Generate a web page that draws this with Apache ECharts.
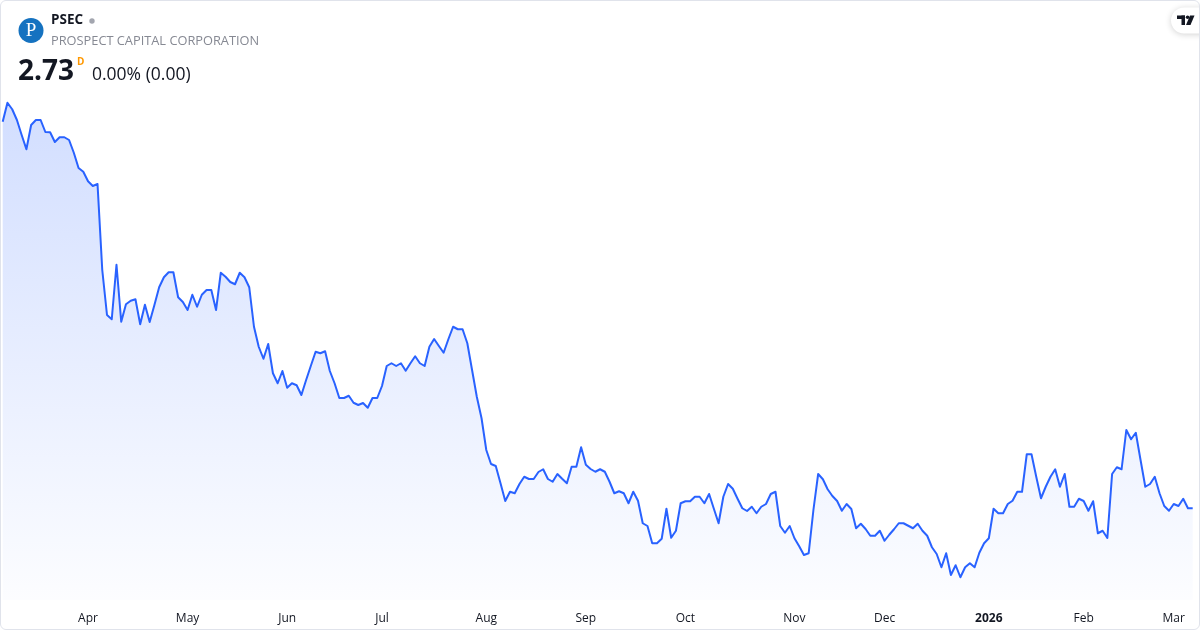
<!DOCTYPE html>
<html><head><meta charset="utf-8">
<script src="https://cdn.jsdelivr.net/npm/echarts@6/dist/echarts.min.js"></script>
<style>
html,body{margin:0;padding:0;background:#fff}
#c{width:1200px;height:630px;position:absolute;left:0;top:0}
#frame{position:absolute;left:0;top:0;width:1198px;height:628px;border:1px solid #e0e3eb;border-radius:6px;pointer-events:none}
</style></head><body><div id="c"></div><div id="frame"></div>
<script>
// Trading-day calendar (categories)
const firstDay = '2025-03-06';
const lastDay = '2026-03-06';
const holidays = ['2025-04-18','2025-05-26','2025-06-19','2025-07-04','2025-09-01','2025-11-27','2025-12-25','2026-01-01','2026-01-19','2026-02-16'];
const monthNames = ['Jan','Feb','Mar','Apr','May','Jun','Jul','Aug','Sep','Oct','Nov','Dec'];

// Daily close prices (PSEC)
const prices = [
4.276,4.352,4.326,4.283,4.223,4.166,4.263,4.283,4.283,4.235,
4.234,4.195,4.214,4.214,4.203,4.152,4.091,4.076,4.038,4.019,
4.027,3.683,3.503,3.486,3.704,3.476,3.546,3.560,3.566,3.466,
3.544,3.475,3.543,3.614,3.654,3.674,3.674,3.574,3.555,3.523,
3.584,3.536,3.584,3.603,3.603,3.523,3.672,3.656,3.635,3.626,
3.672,3.654,3.614,3.456,3.376,3.328,3.387,3.270,3.230,3.279,
3.212,3.230,3.222,3.183,3.243,3.300,3.356,3.350,3.358,3.279,
3.230,3.171,3.171,3.180,3.152,3.143,3.151,3.132,3.171,3.171,
3.219,3.299,3.310,3.299,3.310,3.280,3.310,3.338,3.310,3.299,
3.376,3.407,3.379,3.352,3.406,3.456,3.446,3.446,3.390,3.283,
3.176,3.090,2.963,2.907,2.899,2.830,2.759,2.796,2.790,2.827,
2.856,2.847,2.847,2.875,2.886,2.847,2.836,2.867,2.848,2.830,
2.896,2.896,2.974,2.904,2.887,2.876,2.886,2.876,2.836,2.790,
2.798,2.790,2.750,2.796,2.760,2.670,2.659,2.590,2.590,2.608,
2.728,2.612,2.640,2.750,2.758,2.758,2.776,2.776,2.750,2.787,
2.728,2.670,2.776,2.827,2.808,2.768,2.730,2.719,2.736,2.710,
2.736,2.747,2.787,2.796,2.659,2.632,2.659,2.610,2.578,2.543,
2.550,2.723,2.867,2.846,2.806,2.779,2.759,2.720,2.747,2.727,
2.650,2.668,2.647,2.620,2.620,2.640,2.600,2.624,2.646,2.670,
2.670,2.660,2.650,2.668,2.640,2.620,2.574,2.547,2.494,2.550,
2.463,2.502,2.454,2.494,2.510,2.494,2.552,2.590,2.610,2.728,
2.710,2.710,2.747,2.760,2.796,2.796,2.946,2.946,2.856,2.770,
2.816,2.856,2.886,2.816,2.867,2.736,2.736,2.768,2.759,2.720,
2.758,2.630,2.640,2.611,2.867,2.894,2.886,3.043,3.006,3.032,
2.923,2.816,2.827,2.856,2.790,2.739,2.720,2.747,2.739,2.768,
2.730,2.730
];

function pad(n){return n<10?'0'+n:''+n;}
function buildDays(){
  const out=[];
  const d=new Date(firstDay+'T12:00:00Z');
  const end=new Date(lastDay+'T12:00:00Z');
  while(d<=end){
    const s=d.getUTCFullYear()+'-'+pad(d.getUTCMonth()+1)+'-'+pad(d.getUTCDate());
    const wd=d.getUTCDay();
    if(wd!==0&&wd!==6&&holidays.indexOf(s)<0) out.push(s);
    d.setUTCDate(d.getUTCDate()+1);
  }
  return out;
}
const days = buildDays();
const monthStart = {};
for(let i=1;i<days.length;i++){ if(days[i].slice(5,7)!==days[i-1].slice(5,7)) monthStart[i]=true; }

const chart = echarts.init(document.getElementById('c'), null, {renderer:'canvas'});
const FONT = '"Open Sans", "Noto Sans", sans-serif';
chart.setOption({
  animation:false,
  backgroundColor:'#ffffff',
  grid:{left:2.7,right:7.3,top:60,bottom:30,containLabel:false},
  xAxis:{
    type:'category', data:days, boundaryGap:false,
    axisLine:{show:false}, axisTick:{show:false}, splitLine:{show:false},
    axisLabel:{
      interval:function(i){return !!monthStart[i];},
      margin:13, color:'#131722', fontSize:12, fontFamily:FONT,
      formatter:function(v){
        const m=parseInt(v.slice(5,7),10)-1;
        if(m===0) return '{b|'+v.slice(0,4)+'}';
        return monthNames[m];
      },
      rich:{b:{fontWeight:'bold',fontSize:12,color:'#131722',fontFamily:FONT}}
    }
  },
  yAxis:{type:'value',min:2.363,max:4.523,show:false,splitLine:{show:false}},
  series:[{
    type:'line', data:prices, symbol:'none', smooth:false,
    lineStyle:{color:'#2962ff',width:2,join:'round'},
    areaStyle:{color:new echarts.graphic.LinearGradient(0,0,0,1,[
      {offset:0,color:'rgba(41,98,255,0.30)'},
      {offset:1,color:'rgba(41,98,255,0.02)'}
    ])}
  }],
  graphic:[
    {type:'circle',shape:{cx:31,cy:30.5,r:12.5},style:{fill:'#1572c0'}},
    {type:'text',x:31,y:31,style:{text:'P',font:'19px "Liberation Serif", serif',fill:'#ffffff',align:'center',verticalAlign:'middle'}},
    {type:'text',x:51,y:20.5,style:{text:'PSEC',font:'bold 13.5px '+FONT,fill:'#131722',verticalAlign:'middle'}},
    {type:'circle',shape:{cx:92,cy:21,r:2.7},style:{fill:'#a3a6af'}},
    {type:'text',x:51,y:41,style:{text:'PROSPECT CAPITAL CORPORATION',font:'12.8px '+FONT,fill:'#868993',verticalAlign:'middle'}},
    {type:'text',x:18,y:72.5,style:{text:'2.73',font:'bold 28px '+FONT,fill:'#131722',verticalAlign:'middle'}},
    {type:'text',x:77,y:62,style:{text:'D',font:'bold 10px '+FONT,fill:'#ff9800',verticalAlign:'middle'}},
    {type:'text',x:92,y:75.5,style:{text:'0.00% (0.00)',font:'17.5px '+FONT,fill:'#131722',verticalAlign:'middle'}},
    {type:'rect',shape:{x:1171,y:7.5,width:50,height:26,r:13},style:{fill:'#ffffff',shadowBlur:6,shadowColor:'rgba(0,0,0,0.18)',shadowOffsetY:1}},
    {type:'rect',shape:{x:1177,y:15.5,width:8,height:3.5},style:{fill:'#131722'}},
    {type:'rect',shape:{x:1181.5,y:15.5,width:3.5,height:9.5},style:{fill:'#131722'}},
    {type:'circle',shape:{cx:1187.6,cy:17.3,r:1.8},style:{fill:'#131722'}},
    {type:'polygon',shape:{points:[[1190,15.5],[1194.5,15.5],[1190.5,25],[1186,25]]},style:{fill:'#131722'}}
  ]
});
</script></body></html>
